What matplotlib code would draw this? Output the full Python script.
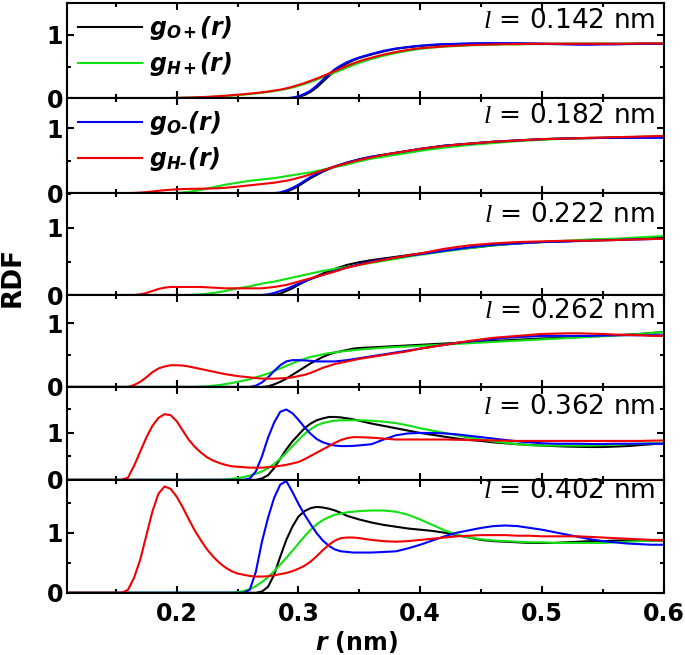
import numpy as np
import matplotlib.pyplot as plt
from matplotlib.ticker import MultipleLocator

plt.rcParams['mathtext.fontset'] = 'custom'
plt.rcParams['mathtext.it'] = 'Liberation Serif:italic'
plt.rcParams['mathtext.bfit'] = 'DejaVu Sans:italic:bold'
plt.rcParams['mathtext.rm'] = 'DejaVu Sans'
plt.rcParams['mathtext.bf'] = 'DejaVu Sans:bold'

# sampling grid of r (nm)
r = np.round(np.concatenate([np.linspace(0.11, 0.15, 5),
                             np.linspace(0.155, 0.35, 40),
                             np.linspace(0.36, 0.60, 25)]), 3)

lengths = ['0.142', '0.182', '0.222', '0.262', '0.362', '0.402']

# ---- l = 0.142 nm
gOp_142 = [0]*5 + [0]*10 + [0]*10 + \
    [0, 0, 0, 0, 0, 0, 0, 0, 0, .02] + \
    [.05, .1, .17, .26, .35, .43, .5, .55, .6, .635] + \
    [.69, .74, .78, .805, .825, .84, .85, .855, .86, .86] + [.86]*10 + [.86]*5
gHp_142 = [0]*5 + \
    [0, 0, 0, 0, 0, 0, 0, 0, .002, .004] + \
    [.006, .009, .012, .015, .019, .023, .028, .034, .041, .048] + \
    [.056, .065, .075, .086, .098, .112, .128, .146, .168, .195] + \
    [.225, .258, .293, .33, .368, .407, .446, .485, .523, .56] + \
    [.62, .67, .715, .75, .78, .8, .815, .825, .835, .84] + \
    [.845, .85, .85, .855, .855, .855, .86, .86, .86, .86] + \
    [.86, .86, .86, .865, .865]
gOm_142 = [0]*5 + [0]*10 + [0]*10 + \
    [0, 0, 0, 0, 0, 0, 0, 0, .01, .03] + \
    [.07, .12, .2, .29, .38, .46, .52, .57, .61, .645] + \
    [.7, .75, .785, .81, .83, .845, .855, .86, .865, .87] + \
    [.87, .87, .87, .865, .86, .855, .85, .845, .845, .85] + \
    [.85, .855, .86, .86, .86]
gHm_142 = [0]*5 + \
    [0, 0, 0, 0, 0, 0, 0, 0, .003, .005] + \
    [.008, .01, .013, .017, .021, .026, .032, .04, .047, .055] + \
    [.063, .072, .082, .093, .105, .12, .135, .155, .18, .21] + \
    [.24, .275, .31, .35, .39, .43, .47, .51, .55, .585] + \
    [.64, .69, .73, .765, .79, .805, .82, .83, .84, .845] + \
    [.85, .855, .855, .86, .86, .86, .86, .86, .86, .86] + \
    [.86, .86, .865, .865, .865]

# ---- l = 0.182 nm
gOp_182 = [0]*5 + [0]*10 + [0]*10 + \
    [0, 0, 0, 0, 0, 0, 0, .02, .06, .11] + \
    [.17, .23, .28, .33, .37, .41, .44, .47, .495, .52] + \
    [.56, .59, .62, .65, .68, .705, .73, .745, .76, .775] + \
    [.79, .8, .81, .82, .83, .835, .84, .845, .85, .85] + \
    [.855, .855, .86, .86, .86]
gHp_182 = [0]*5 + [0]*10 + \
    [.01, .02, .035, .05, .07, .09, .11, .13, .145, .16] + \
    [.175, .19, .2, .21, .22, .23, .245, .26, .275, .29] + \
    [.305, .32, .34, .36, .38, .4, .42, .44, .465, .49] + \
    [.53, .56, .59, .62, .65, .675, .7, .72, .74, .755] + \
    [.77, .785, .8, .81, .82, .83, .835, .84, .845, .85] + \
    [.855, .86, .865, .87, .87]
gOm_182 = [0]*5 + [0]*10 + [0]*10 + \
    [0, 0, 0, 0, 0, 0, .01, .04, .08, .13] + \
    [.19, .25, .3, .34, .38, .41, .44, .47, .495, .52] + \
    [.56, .59, .62, .65, .68, .705, .73, .745, .76, .775] + \
    [.79, .8, .81, .82, .83, .835, .84, .845, .845, .85] + \
    [.85, .85, .85, .85, .85]
gHm_182 = [0]*5 + \
    [0, 0, .003, .008, .015, .025, .035, .045, .052, .058] + \
    [.062, .065, .067, .068, .07, .072, .076, .082, .09, .1] + \
    [.11, .12, .13, .14, .15, .16, .175, .19, .21, .235] + \
    [.26, .29, .32, .35, .38, .41, .435, .46, .485, .51] + \
    [.55, .59, .62, .65, .68, .705, .725, .745, .76, .775] + \
    [.79, .8, .81, .82, .83, .835, .84, .845, .85, .855] + \
    [.86, .865, .87, .875, .88]

# ---- l = 0.222 nm
gOp_222 = [0]*5 + [0]*10 + [0]*10 + \
    [0, 0, 0, 0, 0, 0, .02, .06, .1, .15] + \
    [.2, .24, .28, .32, .36, .39, .42, .45, .47, .49] + \
    [.52, .545, .57, .595, .62, .64, .66, .68, .7, .72] + \
    [.74, .755, .77, .78, .79, .795, .8, .81, .82, .825] + \
    [.83, .835, .84, .85, .86]
gHp_222 = [0]*5 + [0]*10 + \
    [0, 0, .005, .01, .02, .03, .045, .06, .08, .1] + \
    [.115, .13, .15, .17, .185, .2, .22, .24, .26, .28] + \
    [.3, .32, .34, .36, .375, .39, .405, .42, .435, .45] + \
    [.48, .51, .54, .57, .6, .625, .65, .675, .7, .72] + \
    [.74, .755, .77, .78, .79, .8, .81, .82, .83, .835] + \
    [.84, .85, .86, .87, .88]
gOm_222 = [0]*5 + [0]*10 + [0]*10 + \
    [0, 0, 0, 0, .01, .03, .06, .09, .13, .17] + \
    [.2, .24, .27, .3, .33, .36, .385, .41, .435, .46] + \
    [.5, .53, .56, .585, .61, .635, .66, .685, .71, .73] + \
    [.75, .76, .77, .78, .79, .795, .8, .805, .81, .815] + \
    [.82, .825, .83, .835, .84]
gHm_222 = [0]*5 + \
    [0, 0, 0, .01, .03, .06, .09, .11, .12, .12] + \
    [.12, .12, .12, .12, .115, .11, .105, .1, .1, .1] + \
    [.1, .1, .1, .1, .11, .12, .135, .15, .175, .2] + \
    [.225, .25, .275, .3, .325, .35, .38, .41, .43, .45] + \
    [.49, .525, .56, .59, .62, .655, .69, .715, .74, .755] + \
    [.77, .78, .79, .795, .8, .805, .81, .81, .81, .815] + \
    [.82, .825, .83, .835, .84]

# ---- l = 0.262 nm
gOp_262 = [0]*5 + [0]*10 + [0]*10 + \
    [0, 0, 0, 0, .01, .04, .08, .13, .19, .25] + \
    [.31, .37, .42, .47, .51, .54, .56, .58, .6, .61] + \
    [.62, .63, .64, .65, .66, .67, .68, .69, .7, .71] + \
    [.72, .73, .74, .75, .76, .765, .77, .78, .79, .8] + \
    [.81, .82, .83, .845, .86]
gHp_262 = [0]*5 + [0]*10 + \
    [0, 0, 0, .005, .01, .02, .03, .045, .06, .08] + \
    [.1, .12, .15, .18, .21, .25, .29, .33, .37, .41] + \
    [.44, .47, .49, .51, .53, .54, .555, .565, .575, .585] + \
    [.6, .615, .625, .635, .645, .655, .665, .675, .685, .695] + \
    [.705, .715, .725, .735, .745, .755, .765, .775, .785, .795] + \
    [.805, .815, .83, .845, .86]
gOm_262 = [0]*5 + [0]*10 + [0]*10 + \
    [0, 0, .02, .07, .15, .25, .34, .4, .42, .42] + \
    [.415, .41, .4, .4, .4, .4, .41, .42, .435, .45] + \
    [.48, .51, .54, .57, .6, .63, .66, .69, .71, .73] + \
    [.75, .77, .78, .79, .8, .8, .8, .8, .8, .805] + \
    [.81, .81, .81, .81, .81]
gHm_262 = [0]*5 + \
    [0, 0, .03, .08, .15, .23, .29, .32, .34, .34] + \
    [.335, .32, .3, .28, .26, .24, .22, .2, .185, .17] + \
    [.16, .15, .14, .13, .13, .13, .135, .14, .15, .17] + \
    [.19, .22, .26, .3, .33, .36, .38, .4, .42, .44] + \
    [.47, .5, .53, .56, .6, .63, .66, .69, .72, .745] + \
    [.77, .785, .8, .815, .83, .835, .84, .84, .835, .83] + \
    [.82, .815, .81, .8, .8]

# ---- l = 0.362 nm
gOp_362 = [0]*5 + [0]*10 + [0]*10 + \
    [0, 0, 0, .03, .1, .25, .45, .65, .82, .96] + \
    [1.1, 1.2, 1.27, 1.31, 1.34, 1.34, 1.33, 1.31, 1.29, 1.26] + \
    [1.2, 1.15, 1.1, 1.05, 1.0, .96, .92, .88, .85, .83] + \
    [.8, .78, .76, .745, .73, .72, .71, .705, .7, .7] + \
    [.71, .72, .74, .76, .78]
gHp_362 = [0]*5 + [0]*10 + \
    [0, 0, 0, 0, 0, 0, 0, .01, .02, .04] + \
    [.06, .09, .13, .18, .25, .34, .45, .58, .72, .85] + \
    [.98, 1.08, 1.16, 1.21, 1.24, 1.26, 1.27, 1.27, 1.27, 1.27] + \
    [1.26, 1.24, 1.21, 1.16, 1.1, 1.05, 1.0, .95, .9, .86] + \
    [.82, .79, .76, .74, .73, .73, .73, .73, .73, .74] + \
    [.75, .76, .77, .78, .78]
gOm_362 = [0]*5 + [0]*10 + [0]*10 + \
    [0, .03, .18, .5, .9, 1.22, 1.45, 1.5, 1.42, 1.28] + \
    [1.12, .98, .87, .8, .76, .73, .72, .72, .725, .735] + \
    [.76, .86, .95, .99, 1.0, 1.0, .99, .97, .94, .91] + \
    [.88, .85, .82, .8, .78, .77, .77, .77, .765, .765] + \
    [.77, .77, .77, .77, .77]
gHm_362 = [0]*5 + \
    [0, .05, .3, .6, .9, 1.15, 1.32, 1.4, 1.38, 1.25] + \
    [1.05, .85, .7, .58, .48, .41, .36, .32, .29, .28] + \
    [.27, .26, .26, .26, .27, .28, .3, .32, .35, .38] + \
    [.44, .51, .58, .65, .72, .79, .85, .89, .91, .91] + \
    [.9, .88, .86, .86, .86, .86, .86, .855, .85, .845] + \
    [.84, .835, .83, .83, .83, .83, .83, .83, .83, .83] + \
    [.83, .83, .83, .835, .84]

# ---- l = 0.402 nm
gOp_402 = [0]*5 + [0]*10 + [0]*10 + \
    [0, 0, 0, .02, .1, .3, .6, .88, 1.1, 1.27] + \
    [1.36, 1.41, 1.43, 1.42, 1.4, 1.37, 1.33, 1.28, 1.25, 1.22] + \
    [1.17, 1.13, 1.1, 1.07, 1.05, 1.03, 1.0, .96, .92, .88] + \
    [.86, .85, .84, .83, .83, .83, .84, .85, .86, .86] + \
    [.87, .87, .87, .87, .87]
gHp_402 = [0]*5 + [0]*10 + \
    [0, 0, 0, 0, 0, 0, 0, 0, 0, .01] + \
    [.03, .06, .11, .18, .26, .36, .47, .58, .7, .82] + \
    [.94, 1.05, 1.14, 1.21, 1.26, 1.3, 1.32, 1.34, 1.35, 1.36] + \
    [1.37, 1.37, 1.35, 1.3, 1.22, 1.13, 1.04, .97, .92, .89] + \
    [.87, .86, .85, .84, .84, .83, .83, .83, .83, .83] + \
    [.84, .85, .86, .87, .88]
gOm_402 = [0]*5 + [0]*10 + [0]*10 + \
    [0, .05, .35, .85, 1.25, 1.58, 1.8, 1.86, 1.68, 1.48] + \
    [1.3, 1.14, .99, .87, .78, .72, .69, .68, .67, .67] + \
    [.67, .68, .69, .74, .8, .87, .94, 1.0, 1.04, 1.08] + \
    [1.11, 1.12, 1.11, 1.08, 1.05, 1.01, .97, .93, .89, .86] + \
    [.84, .82, .81, .8, .8]
gHm_402 = [0]*5 + \
    [0, .05, .25, .55, .95, 1.35, 1.65, 1.77, 1.73, 1.6] + \
    [1.42, 1.22, 1.03, .87, .72, .6, .5, .42, .36, .32] + \
    [.3, .28, .27, .27, .275, .29, .31, .33, .36, .4] + \
    [.45, .52, .61, .71, .8, .87, .91, .92, .92, .91] + \
    [.88, .86, .85, .86, .88, .9, .92, .94, .95, .96] + \
    [.96, .96, .95, .95, .94, .94, .94, .94, .93, .92] + \
    [.91, .9, .89, .88, .88]

panels = [
    (gOp_142, gHp_142, gOm_142, gHm_142),
    (gOp_182, gHp_182, gOm_182, gHm_182),
    (gOp_222, gHp_222, gOm_222, gHm_222),
    (gOp_262, gHp_262, gOm_262, gHm_262),
    (gOp_362, gHp_362, gOm_362, gHm_362),
    (gOp_402, gHp_402, gOm_402, gHm_402),
]
labels = [r'$\mathbfit{g}_{\mathbfit{O+}}\mathbfit{(r)}$',
          r'$\mathbfit{g}_{\mathbfit{H+}}\mathbfit{(r)}$',
          '$\\mathbfit{g}_{\\mathbfit{O\u2010}}\\mathbfit{(r)}$',
          '$\\mathbfit{g}_{\\mathbfit{H\u2010}}\\mathbfit{(r)}$']
colors = ['#000000', '#11e011', '#0000ff', '#f00000']

ytops = [1.5, 1.46, 1.52, 1.44, 1.98, 1.88]
text_y = [0.81, 0.81, 0.79, 0.83, 0.785, 0.9]

fig = plt.figure(figsize=(6.85, 6.55), dpi=100)
gs = fig.add_gridspec(6, 1, height_ratios=[95, 95, 102, 92, 93, 113], hspace=0,
                      left=0.098, right=0.969, top=0.995, bottom=0.095)

leg_kw = dict(loc='upper left', frameon=False, fontsize=17, handlelength=2.7,
              handletextpad=0.3, labelspacing=0.35, borderaxespad=0.15,
              borderpad=0.3)

for i, series in enumerate(panels):
    ax = fig.add_subplot(gs[i])
    lines = []
    for g, c, lab in zip(series, colors, labels):
        ln, = ax.plot(r, g, color=c, lw=1.5, label=lab)
        lines.append(ln)
    ax.set_xlim(0.11, 0.6)
    ax.set_ylim(0, ytops[i])
    ax.xaxis.set_major_locator(MultipleLocator(0.1))
    ax.xaxis.set_minor_locator(MultipleLocator(0.05))
    ax.yaxis.set_major_locator(MultipleLocator(1))
    ax.yaxis.set_minor_locator(MultipleLocator(0.5))
    ax.tick_params(which='both', direction='in', top=True, right=True, width=1.5)
    ax.tick_params(which='major', length=5, labelsize=17, pad=3)
    ax.tick_params(which='minor', length=3)
    for sp in ax.spines.values():
        sp.set_linewidth(1.5)
    for lbl in ax.get_yticklabels() + ax.get_xticklabels():
        lbl.set_fontweight('bold')
    if i < 5:
        ax.tick_params(labelbottom=False)
    else:
        ax.tick_params(axis='x', pad=7)
    ax.text(0.985, text_y[i], r'$\mathit{l}$ = ' + lengths[i] + ' nm',
            transform=ax.transAxes, ha='right', va='center', fontsize=19)
    if i == 0:
        ax.legend(handles=lines[:2], **leg_kw)
    elif i == 1:
        ax.legend(handles=lines[2:], **leg_kw)

fig.text(0.018, 1 - 277 / 655, 'RDF', rotation=90, fontweight='bold', fontsize=19,
         ha='center', va='center')
fig.text(356 / 685, 1 - 642 / 655, r'$\mathbfit{r}$ (nm)', fontweight='bold',
         fontsize=17, ha='center', va='center')

fig.savefig('out.png', dpi=100)
